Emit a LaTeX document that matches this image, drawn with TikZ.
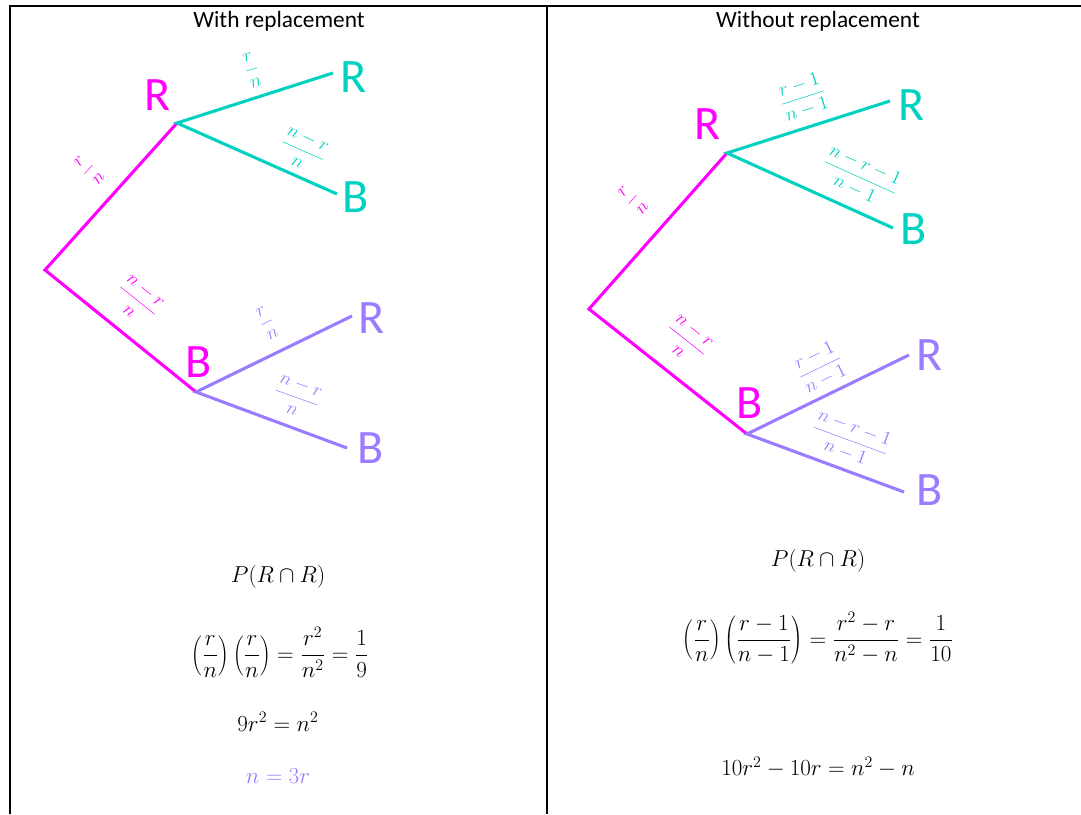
\documentclass[tikz,border=0pt]{standalone}
\usepackage[no-math]{fontspec}
\setmainfont{Carlito}
\definecolor{mag}{HTML}{FF00FF}
\definecolor{tealc}{HTML}{00D2BF}
\definecolor{purp}{HTML}{9B7BFF}
\begin{document}
\begin{tikzpicture}[x=0.75pt,y=-0.75pt,
  branch/.style={line width=2.3pt},
  frame/.style={line width=1.5pt,black},
  letter/.style={font=\fontsize{36}{40}\selectfont, inner sep=0pt},
  prob/.style={font=\fontsize{15}{17}\selectfont, inner sep=0pt},
  eq/.style={font=\fontsize{18}{22}\selectfont, inner sep=0pt},
  heading/.style={font=\fontsize{17.5}{20}\selectfont, inner sep=0pt}]
\useasboundingbox (0,0) rectangle (1081,814);
% table frame
\draw[frame] (10,814) -- (10,6) -- (1081,6);
\draw[frame] (547,6) -- (547,814);
% headings
\node[heading] (t1) at (279,21) {With replacement};
\node[heading] (t2) at (818,21) {Without replacement};

% ---------- left tree ----------
\coordinate (L0) at (45,270);
\coordinate (LR) at (177,123);
\coordinate (LB) at (196,392);
\coordinate (LRR) at (333,73);
\coordinate (LRB) at (337,194);
\coordinate (LBR) at (352,316);
\coordinate (LBB) at (347,448);
\draw[branch,mag] (LR) -- (L0) -- (LB);
\draw[branch,tealc] (LRR) -- (LR) -- (LRB);
\draw[branch,purp] (LBR) -- (LB) -- (LBB);
\node[letter,mag] (lR) at (158,95) {R};
\node[letter,mag] (lB) at (199,362) {B};
\node[letter,tealc] (lRR) at (354,77) {R};
\node[letter,tealc] (lRB) at (356,197) {B};
\node[letter,purp] (lBR) at (372,318) {R};
\node[letter,purp] (lBB) at (371,448) {B};
\node[prob,mag,rotate=48] (p1) at (89,170) {$\displaystyle\frac{r}{n}$};
\node[prob,mag,rotate=-38.7] (p2) at (138,300) {$\displaystyle\frac{n-r}{n}$};
\node[prob,tealc,rotate=17.8] (p3) at (252,70) {$\displaystyle\frac{r}{n}$};
\node[prob,tealc,rotate=-23.9] (p4) at (303,150) {$\displaystyle\frac{n-r}{n}$};
\node[prob,purp,rotate=26.6] (p5) at (267,323) {$\displaystyle\frac{r}{n}$};
\node[prob,purp,rotate=-19.7] (p6) at (297,397) {$\displaystyle\frac{n-r}{n}$};

% ---------- right tree ----------
\coordinate (R0) at (589,309);
\coordinate (RR) at (727,153);
\coordinate (RB) at (747,434);
\coordinate (RRR) at (890,101);
\coordinate (RRB) at (893,228);
\coordinate (RBR) at (909,355);
\coordinate (RBB) at (904,492);
\draw[branch,mag] (RR) -- (R0) -- (RB);
\draw[branch,tealc] (RRR) -- (RR) -- (RRB);
\draw[branch,purp] (RBR) -- (RB) -- (RBB);
\node[letter,mag] (rR) at (708,124) {R};
\node[letter,mag] (rB) at (750,403) {B};
\node[letter,tealc] (rRR) at (912,105) {R};
\node[letter,tealc] (rRB) at (914,229) {B};
\node[letter,purp] (rBR) at (930,355) {R};
\node[letter,purp] (rBB) at (930,490) {B};
\node[prob,mag,rotate=48.5] (q1) at (633,200) {$\displaystyle\frac{r}{n}$};
\node[prob,mag,rotate=-38.3] (q2) at (687,340) {$\displaystyle\frac{n-r}{n}$};
\node[prob,tealc,rotate=17.7] (q3) at (803,97) {$\displaystyle\frac{r-1}{n-1}$};
\node[prob,tealc,rotate=-24.3] (q4) at (860,177) {$\displaystyle\frac{n-r-1}{n-1}$};
\node[prob,purp,rotate=26] (q5) at (820,367) {$\displaystyle\frac{r-1}{n-1}$};
\node[prob,purp,rotate=-20.3] (q6) at (850,440) {$\displaystyle\frac{n-r-1}{n-1}$};

% ---------- working ----------
\node[eq] (e1) at (278,577) {$P(R\cap R)$};
\node[eq] (e2) at (280,652) {$\displaystyle\left(\frac{r}{n}\right)\left(\frac{r}{n}\right)=\frac{r^2}{n^2}=\frac{1}{9}$};
\node[eq] (e3) at (278,722) {$9r^2=n^2$};
\node[eq,purp] (e4) at (278,776) {$n=3r$};
\node[eq] (f1) at (818,561) {$P(R\cap R)$};
\node[eq] (f2) at (818,638) {$\displaystyle\left(\frac{r}{n}\right)\left(\frac{r-1}{n-1}\right)=\frac{r^2-r}{n^2-n}=\frac{1}{10}$};
\node[eq] (f3) at (818,767) {$10r^2-10r=n^2-n$};
\end{tikzpicture}
\end{document}
